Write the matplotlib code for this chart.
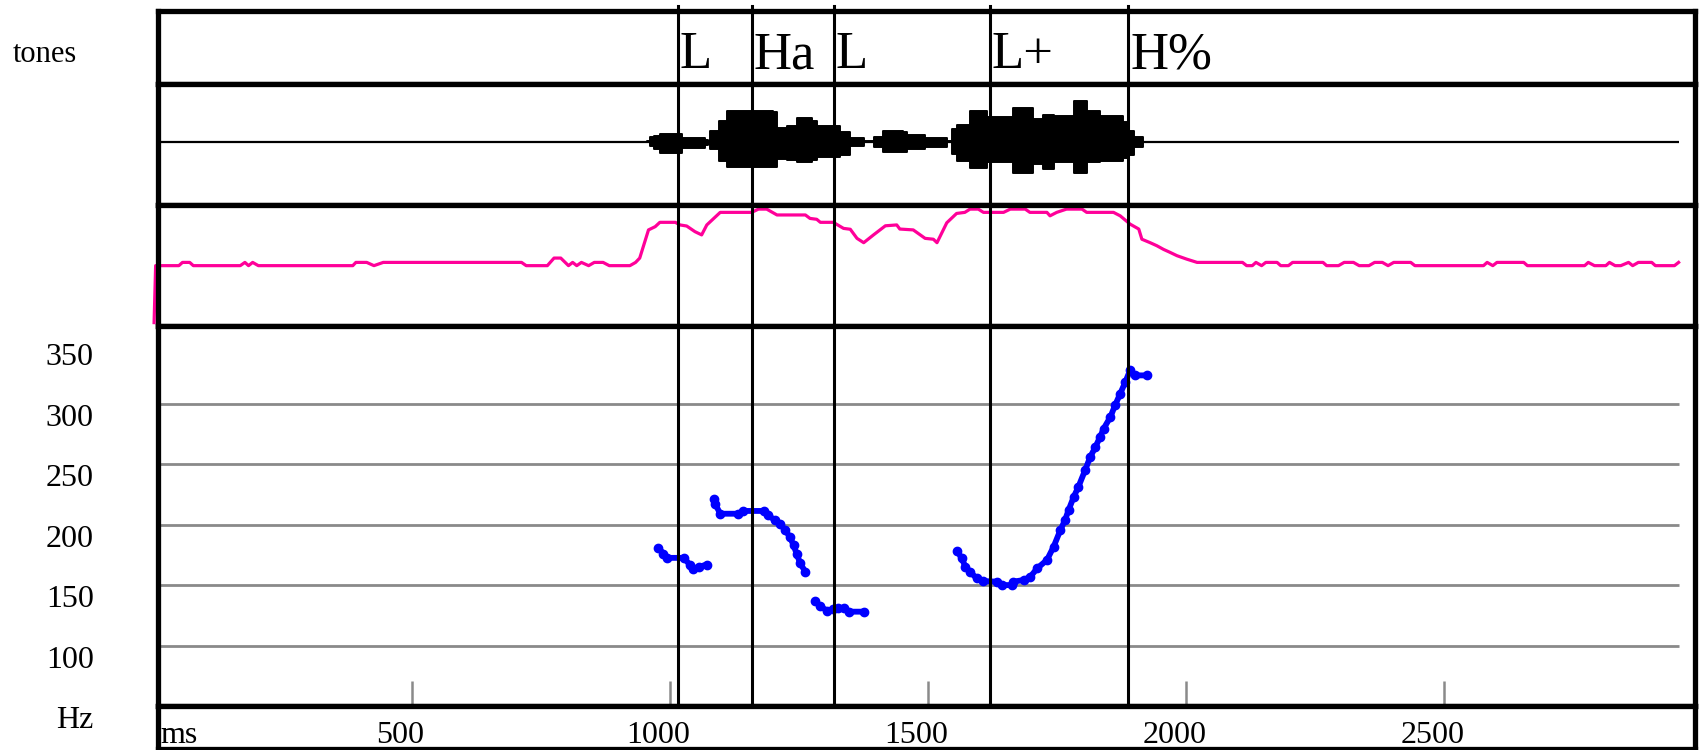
import matplotlib.pyplot as plt
from matplotlib import transforms
from matplotlib.lines import Line2D

plt.rcParams['font.family'] = ['Liberation Serif', 'DejaVu Serif']

# tone tier: boundary times (ms) and labels
tone_times = [1016, 1159, 1318, 1619, 1888]
tone_labels = ['L', 'Ha', 'L', 'L+', 'H%']

# waveform envelope (ms, upper / lower amplitude, arbitrary units)
wave_ms = [955, 961, 968, 981, 1019, 1023, 1061, 1068, 1074, 1078,
           1094, 1110, 1149, 1200, 1207, 1226, 1245, 1265, 1274, 1284,
           1310, 1329, 1349, 1368, 1375, 1388, 1394, 1413, 1439, 1452,
           1459, 1491, 1494, 1527, 1536, 1546, 1556, 1568, 1581, 1601,
           1614, 1639, 1665, 1691, 1704, 1717, 1723, 1743, 1769, 1782,
           1791, 1807, 1820, 1833, 1872, 1878, 1888, 1898, 1911, 1917]
wave_up = [0.5, 4, 5.5, 7, 7, 3, 3, 1.5, 1, 10,
           19.4, 28, 28, 27, 13, 14, 21.8, 21.8, 19.4, 14.8,
           14.8, 8.6, 3, 3, 0.5, 0.5, 4, 10, 10, 9.2,
           6.5, 6.5, 3.4, 3.4, 0.5, 11.7, 15.4, 15.4, 28, 28,
           22.4, 22.4, 30.7, 30.7, 21, 21, 24.6, 24, 24, 37.2,
           37.2, 28.6, 28.6, 24, 24, 17.8, 10, 4, 4, 0.5]
wave_lo = [-0.5, -3.7, -6.8, -10.5, -10.5, -5.8, -5.8, -3, -2, -7,
           -17.5, -23, -23, -23, -16, -17, -19, -19, -17, -14.4,
           -14.4, -12.3, -3.7, -3.7, -0.5, -0.5, -5, -9.8, -9.8, -9.8,
           -6.8, -6.8, -5.2, -5.2, -0.5, -11.4, -17.5, -17.5, -24.6, -24.6,
           -19, -19, -28.9, -28.9, -20.6, -20.6, -25.2, -19, -19, -28.9,
           -28.9, -19, -19, -17.5, -17.5, -15, -12.3, -5.2, -5.2, -0.5]
signal_end = 2954

# intensity contour (ms, dB)
int_ms = [0, 3, 48, 55, 69, 76, 167, 176, 183, 191,
          202, 385, 391, 412, 426, 444, 712, 721, 762, 775,
          788, 803, 811, 819, 828, 842, 853, 870, 882, 922,
          933, 941, 958, 971, 980, 1010, 1019, 1032, 1048, 1061,
          1071, 1097, 1158, 1171, 1187, 1207, 1262, 1271, 1284, 1291,
          1316, 1336, 1349, 1362, 1375, 1394, 1417, 1439, 1445, 1471,
          1494, 1510, 1517, 1536, 1555, 1571, 1581, 1597, 1607, 1646,
          1659, 1688, 1697, 1730, 1736, 1749, 1768, 1798, 1807, 1859,
          1872, 1891, 1908, 1914, 1930, 1943, 1956, 1968, 1982, 2001,
          2021, 2109, 2117, 2128, 2135, 2146, 2154, 2176, 2183, 2198,
          2206, 2265, 2272, 2295, 2306, 2324, 2335, 2354, 2365, 2380,
          2391, 2402, 2435, 2443, 2576, 2583, 2594, 2602, 2654, 2661,
          2772, 2779, 2791, 2813, 2820, 2831, 2842, 2857, 2865, 2876,
          2902, 2909, 2946, 2954]
int_db = [20.7, 47, 47, 48.5, 48.5, 47, 47, 48.5, 47, 48.5,
          47, 47, 48.5, 48.5, 47, 48.5, 48.5, 47, 47, 50.5,
          50.5, 47, 48.5, 47, 48.5, 47, 48.5, 48.5, 47, 47,
          48.5, 50.5, 63.5, 65, 67, 67, 65.8, 65.3, 62.7, 61.2,
          65.8, 71.6, 71.6, 73.1, 73.1, 70.4, 70.4, 68.8, 68.4, 67,
          67, 64.2, 63.8, 59.6, 57.6, 61.2, 65.4, 65.8, 63.9, 63.5,
          59.6, 59.2, 57.6, 66.8, 71.1, 71.6, 73.1, 73.1, 71.6, 71.6,
          73.1, 73.1, 71.6, 71.6, 70, 71.6, 73.1, 73.1, 71.6, 71.6,
          70, 66.2, 63.9, 59.2, 57.6, 56.2, 54.5, 53.2, 51.6, 50,
          48.5, 48.5, 47, 47, 48.5, 47, 48.5, 48.5, 47, 47,
          48.5, 48.5, 47, 47, 48.5, 48.5, 47, 47, 48.5, 48.5,
          47, 48.5, 48.5, 47, 47, 48.5, 47, 48.5, 48.5, 47,
          47, 48.5, 47, 47, 48.5, 47, 47, 48.5, 47, 48.5,
          48.5, 47, 47, 48.5]

# F0 contour, one list pair per voiced stretch
f0_ms_1 = [977, 987, 994, 1026, 1039, 1045, 1055, 1071]
f0_hz_1 = [180.8, 176, 172.5, 172.5, 166.5, 163.7, 165, 167]
f0_ms_2 = [1084, 1087, 1097, 1132, 1142, 1181, 1190, 1203, 1213, 1223,
           1232, 1239, 1245, 1252, 1262]
f0_hz_2 = [221.4, 217.3, 209, 209, 211.3, 211.3, 207.7, 203.6, 200.8, 195.3,
           189.8, 183, 176, 167.9, 161]
f0_ms_3 = [1281, 1290, 1304, 1316, 1326, 1337, 1346, 1375]
f0_hz_3 = [136.8, 132.7, 128.8, 130, 130.8, 131.3, 128, 128]
f0_ms_4 = [1556, 1565, 1572, 1581, 1594, 1607, 1633, 1643, 1662, 1665,
           1685, 1698, 1711, 1730, 1743, 1756, 1765, 1772, 1782, 1791,
           1804, 1814, 1824, 1833, 1840, 1853, 1862, 1872, 1882, 1891,
           1901, 1924]
f0_hz_4 = [178.4, 172, 165.2, 161, 155.5, 153.3, 152.8, 150, 150, 152.8,
           154.2, 156.9, 163.8, 170.7, 181.7, 195.4, 203.7, 212, 223, 231.2,
           245, 256, 264.2, 272.5, 279.4, 289, 298.6, 308.3, 317.9, 327.5,
           323.4, 323.4]

hz_ticks = [50, 100, 150, 200, 250, 300, 350]
hz_labels = ['Hz', '100', '150', '200', '250', '300', '350']
grid_hz = [100, 150, 200, 250, 300]
ms_ticks = [500, 1000, 1500, 2000, 2500]

fig = plt.figure(figsize=(17, 7.5), dpi=100)
H = 750.0
LEFT, WIDTH = 157.7 / 1700, (1694.6 - 157.7) / 1700


def box(top, bottom):
    return [LEFT, 1 - bottom / H, WIDTH, (bottom - top) / H]


ax_tone = fig.add_axes(box(10.7, 84.3))
ax_wave = fig.add_axes(box(84.3, 205))
ax_int = fig.add_axes(box(205, 326.3))
ax_f0 = fig.add_axes(box(326.3, 706))
ax_ms = fig.add_axes(box(706, 749))

for ax in [ax_tone, ax_wave, ax_int, ax_f0, ax_ms]:
    ax.set_xlim(7, 2985)
    ax.set_xticks([])
    ax.set_yticks([])
    for s in ax.spines.values():
        s.set_linewidth(3.8)
        s.set_color('black')

# tones tier
for t, lab in zip(tone_times, tone_labels):
    ax_tone.text(t + 3, 0.217, lab, fontsize=38, ha='left', va='baseline',
                 transform=ax_tone.get_xaxis_transform())
fig.text(12.5 / 1700, 1 - 61.7 / H, 'tones', fontsize=22, va='baseline', ha='left')

# waveform
ax_wave.set_ylim(-58.4, 52.9)
ax_wave.hlines(0, 0, signal_end, color='black', lw=1.6)
ax_wave.fill_between(wave_ms, wave_lo, wave_up, step='post', color='black', lw=1.4)

# intensity
ax_int.set_ylim(19, 75)
ax_int.plot(int_ms, int_db, color='#ff0099', lw=2.3, clip_on=False)

# pitch
ax_f0.set_ylim(50, 364)
ax_f0.hlines(grid_hz, 0, signal_end, color='#8a8a8a', lw=2.0, zorder=1)
for ms_, hz_ in [(f0_ms_1, f0_hz_1), (f0_ms_2, f0_hz_2),
                 (f0_ms_3, f0_hz_3), (f0_ms_4, f0_hz_4)]:
    ax_f0.plot(ms_, hz_, color='#0000ff', lw=4.2, marker='o', markersize=6,
               solid_capstyle='round', zorder=3)
ax_f0.set_xticks(ms_ticks)
ax_f0.tick_params(axis='x', direction='in', length=18, width=1.8,
                  color='#8a8a8a', labelbottom=False)
ax_f0.set_yticks(hz_ticks, hz_labels)
ax_f0.tick_params(axis='y', length=0, pad=46, labelsize=23)
for lab in ax_f0.get_yticklabels():
    lab.set_verticalalignment('top')

# ms strip
ax_ms.text(0.002, 0.13, 'ms', fontsize=23, ha='left', va='baseline',
           transform=ax_ms.transAxes)
for t in ms_ticks:
    ax_ms.text(t - 23, 0.13, str(t), fontsize=23, ha='center', va='baseline',
               transform=ax_ms.get_xaxis_transform())

# tone boundary lines through all tiers
trans = transforms.blended_transform_factory(ax_f0.transData, fig.transFigure)
for t in tone_times:
    fig.add_artist(Line2D([t, t], [1 - 706 / H, 1 - 6 / H], transform=trans,
                          color='black', lw=2.2))

plt.savefig('out.png', dpi=100)
